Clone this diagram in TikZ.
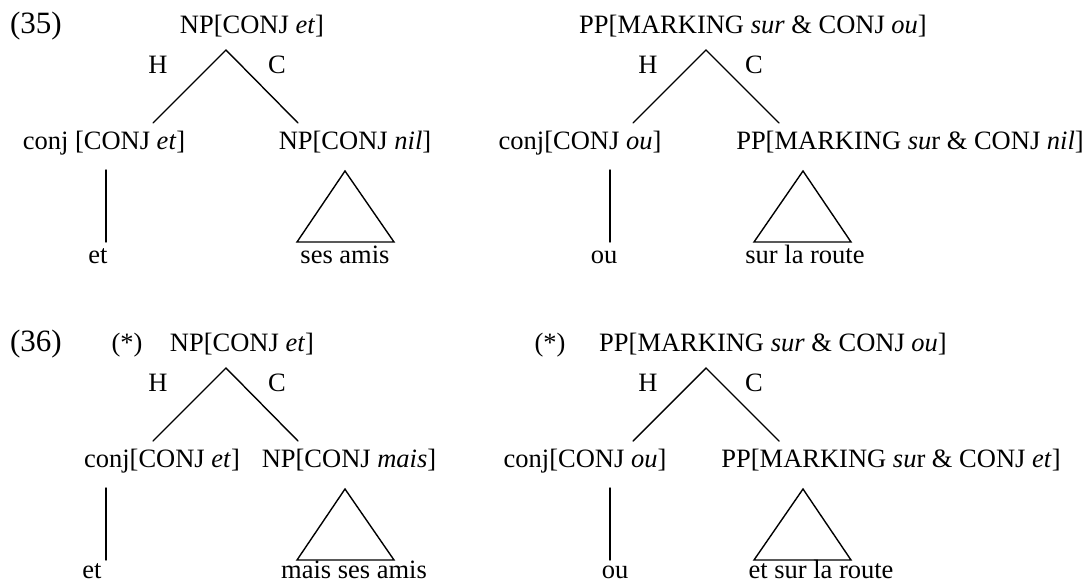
\documentclass[tikz,border=0pt]{standalone}
\usepackage{fontspec}
\setmainfont{Liberation Serif}
\usepackage{tikz}

\begin{document}
\begin{tikzpicture}[
   x=1pt, y=-1pt,
   lbl/.style={font=\fontsize{26.5}{30}\selectfont, inner sep=0pt, anchor=base},
   exnum/.style={lbl, font=\fontsize{31}{34}\selectfont},
   branch/.style={line width=1.4pt, line cap=round, line join=miter}
]
\useasboundingbox (0,0) rectangle (1088,584);

% (35) left tree
\node[exnum] (ex35) at (36,33) {(35)};
\node[lbl] (np35) at (252,33) {NP[CONJ \textit{et}]};
\coordinate (np35-top) at (226,50);
\coordinate (np35-h) at (153,123);
\coordinate (np35-c) at (298,123);
\node[lbl] (h35) at (158,73) {H};
\node[lbl] (c35) at (277,73) {C};
\node[lbl] (conj35) at (104,149) {conj [CONJ \textit{et}]};
\node[lbl] (comp35) at (355,149) {NP[CONJ \textit{nil}]};
\coordinate (conj35-a) at (106,170);
\coordinate (conj35-b) at (106,242);
\node[lbl] (et35) at (98,263) {et};
\coordinate (tri35-top) at (345,171);
\coordinate (tri35-l) at (297,242);
\coordinate (tri35-r) at (394,242);
\node[lbl] (ses35) at (345,263) {ses amis};

\draw[branch] (np35-h) -- (np35-top) -- (np35-c);
\draw[branch] (conj35-a) -- (conj35-b);
\draw[branch] (tri35-top) -- (tri35-l) -- (tri35-r) -- cycle;

% (35) right tree
\node[lbl] (pp35) at (753,33) {PP[MARKING \textit{sur} \& CONJ \textit{ou}]};
\coordinate (pp35-top) at (706,50);
\coordinate (pp35-h) at (633,123);
\coordinate (pp35-c) at (779,123);
\node[lbl] (h35b) at (648,73) {H};
\node[lbl] (c35b) at (754,73) {C};
\node[lbl] (conj35b) at (580,149) {conj[CONJ \textit{ou}]};
\node[lbl] (comp35b) at (910,149) {PP[MARKING \textit{su}r \& CONJ \textit{nil}]};
\coordinate (conj35b-a) at (610,170);
\coordinate (conj35b-b) at (610,242);
\node[lbl] (ou35) at (604,263) {ou};
\coordinate (tri35b-top) at (803,171);
\coordinate (tri35b-l) at (754,242);
\coordinate (tri35b-r) at (851,242);
\node[lbl] (route35) at (805,263) {sur la route};

\draw[branch] (pp35-h) -- (pp35-top) -- (pp35-c);
\draw[branch] (conj35b-a) -- (conj35b-b);
\draw[branch] (tri35b-top) -- (tri35b-l) -- (tri35b-r) -- cycle;

% (36) left tree
\node[exnum] (ex36) at (36,351) {(36)};
\node[lbl] (star36) at (127,351) {(*)};
\node[lbl] (np36) at (242,351) {NP[CONJ \textit{et}]};
\coordinate (np36-top) at (226,368);
\coordinate (np36-h) at (153,441);
\coordinate (np36-c) at (298,441);
\node[lbl] (h36) at (158,391) {H};
\node[lbl] (c36) at (277,391) {C};
\node[lbl] (conj36) at (162,467) {conj[CONJ \textit{et}]};
\node[lbl] (comp36) at (349,467) {NP[CONJ \textit{mais}]};
\coordinate (conj36-a) at (106,488);
\coordinate (conj36-b) at (106,560);
\node[lbl] (et36) at (92,578) {et};
\coordinate (tri36-top) at (345,489);
\coordinate (tri36-l) at (297,560);
\coordinate (tri36-r) at (394,560);
\node[lbl] (mais36) at (354,578) {mais ses amis};

\draw[branch] (np36-h) -- (np36-top) -- (np36-c);
\draw[branch] (conj36-a) -- (conj36-b);
\draw[branch] (tri36-top) -- (tri36-l) -- (tri36-r) -- cycle;

% (36) right tree
\node[lbl] (star36b) at (550,351) {(*)};
\node[lbl] (pp36) at (773,351) {PP[MARKING \textit{sur} \& CONJ \textit{ou}]};
\coordinate (pp36-top) at (706,368);
\coordinate (pp36-h) at (633,441);
\coordinate (pp36-c) at (779,441);
\node[lbl] (h36b) at (648,391) {H};
\node[lbl] (c36b) at (754,391) {C};
\node[lbl] (conj36b) at (585,467) {conj[CONJ \textit{ou}]};
\node[lbl] (comp36b) at (891,467) {PP[MARKING \textit{su}r \& CONJ \textit{et}]};
\coordinate (conj36b-a) at (610,488);
\coordinate (conj36b-b) at (610,560);
\node[lbl] (ou36) at (615,578) {ou};
\coordinate (tri36b-top) at (803,489);
\coordinate (tri36b-l) at (754,560);
\coordinate (tri36b-r) at (851,560);
\node[lbl] (route36) at (821,578) {et sur la route};

\draw[branch] (pp36-h) -- (pp36-top) -- (pp36-c);
\draw[branch] (conj36b-a) -- (conj36b-b);
\draw[branch] (tri36b-top) -- (tri36b-l) -- (tri36b-r) -- cycle;
\end{tikzpicture}
\end{document}
